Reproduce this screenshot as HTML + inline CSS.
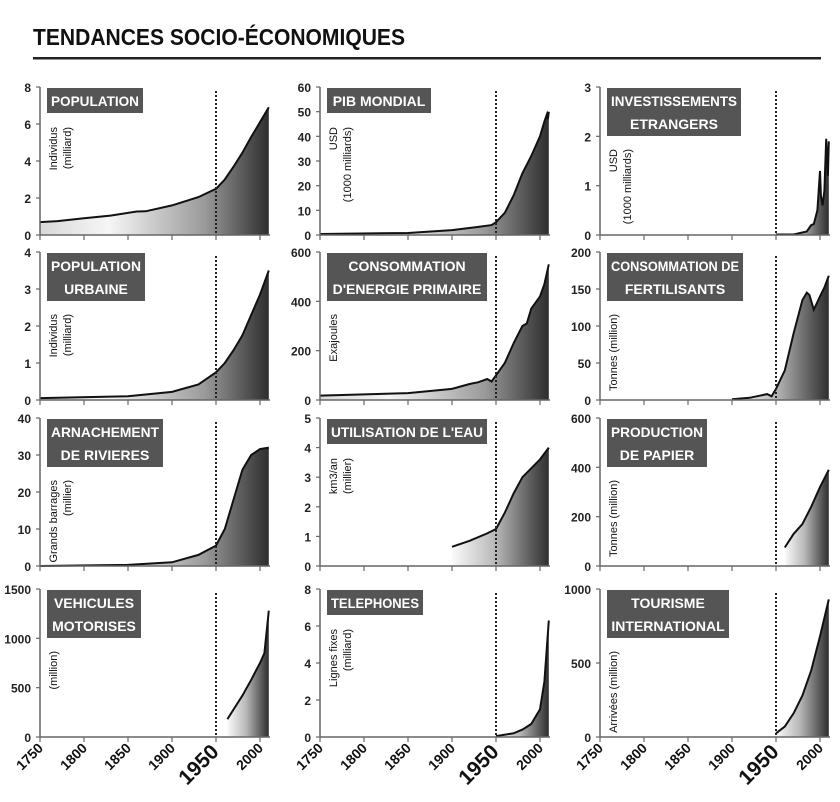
<!DOCTYPE html>
<html><head><meta charset="utf-8"><style>
html,body{margin:0;padding:0;background:#fff;}
svg{display:block;font-family:"Liberation Sans",sans-serif;}
</style></head><body>
<svg id="s" width="840" height="802" viewBox="0 0 840 802" xmlns="http://www.w3.org/2000/svg">
<defs>
<linearGradient id="gA" x1="0" x2="1" y1="0" y2="0">
<stop offset="0" stop-color="#d8d8d8"/><stop offset="0.3" stop-color="#f6f6f6"/><stop offset="0.72" stop-color="#9a9a9a"/><stop offset="1" stop-color="#2e2e2e"/>
</linearGradient>
<linearGradient id="gB" x1="0" x2="1" y1="0" y2="0">
<stop offset="0" stop-color="#fafafa"/><stop offset="0.45" stop-color="#b8b8b8"/><stop offset="1" stop-color="#2e2e2e"/>
</linearGradient>
</defs>
<text x="33" y="45" font-size="23" font-weight="bold" fill="#111" textLength="372" lengthAdjust="spacingAndGlyphs">TENDANCES SOCIO-ÉCONOMIQUES</text>
<rect x="33" y="57" width="788" height="2.5" fill="#222"/>
</svg>
<script>
const s=document.getElementById('s');const NS='http://www.w3.org/2000/svg';
function el(t,a,txt){const e=document.createElementNS(NS,t);for(const k in a)e.setAttribute(k,a[k]);if(txt!==undefined)e.textContent=txt;s.appendChild(e);return e;}
const cols=[40,320,600], rows=[235,400,566,737], H=148, K=0.88;
const P=[
{c:0,r:0,max:8,ticks:[0,2,4,6,8],t:["POPULATION"],bw:96,y:["Individus","(milliard)"],g:"gA",d:[[1750,.7],[1770,.75],[1800,.9],[1830,1.05],[1860,1.27],[1870,1.28],[1900,1.6],[1930,2.05],[1950,2.5],[1960,3.0],[1970,3.7],[1980,4.45],[1990,5.3],[2000,6.1],[2010,6.9]]},
{c:1,r:0,max:60,ticks:[0,10,20,30,40,50,60],t:["PIB MONDIAL"],bw:104,y:["USD","(1000 milliards)"],g:"gA",d:[[1750,.4],[1850,.8],[1900,2],[1930,3.3],[1945,4],[1950,5.2],[1960,9],[1970,16],[1980,25],[1990,32],[2000,40],[2005,46],[2008,49],[2009,47],[2010,50]]},
{c:2,r:0,max:3,ticks:[0,1,2,3],t:["INVESTISSEMENTS","ETRANGERS"],bw:134,y:["USD","(1000 milliards)"],g:"gB",d:[[1950,.01],[1970,.01],[1980,.05],[1985,.07],[1990,.2],[1993,.22],[1997,.5],[2000,1.3],[2001,.8],[2003,.6],[2005,.9],[2007,1.95],[2009,1.2],[2010,1.9]]},
{c:0,r:1,max:4,ticks:[0,1,2,3,4],t:["POPULATION","URBAINE"],bw:98,y:["Individus","(milliard)"],g:"gA",d:[[1750,.05],[1850,.1],[1900,.22],[1930,.42],[1950,.75],[1960,1.0],[1970,1.35],[1980,1.75],[1990,2.3],[2000,2.85],[2010,3.5]]},
{c:1,r:1,max:600,ticks:[0,200,400,600],t:["CONSOMMATION","D'ENERGIE PRIMAIRE"],bw:160,y:["Exajoules"],g:"gA",d:[[1750,18],[1850,28],[1900,45],[1920,65],[1930,72],[1940,85],[1945,75],[1950,100],[1960,150],[1970,230],[1980,300],[1985,310],[1990,370],[2000,420],[2005,470],[2010,550]]},
{c:2,r:1,max:200,ticks:[0,50,100,150,200],t:["CONSOMMATION DE","FERTILISANTS"],bw:136,y:["Tonnes (million)"],g:"gB",d:[[1900,1],[1920,3],[1940,8],[1945,5],[1950,15],[1960,40],[1970,90],[1980,135],[1985,145],[1988,142],[1993,122],[2000,140],[2005,152],[2010,168]]},
{c:0,r:2,max:40,ticks:[0,10,20,30,40],t:["ARNACHEMENT","DE RIVIERES"],bw:116,y:["Grands barrages","(millier)"],g:"gA",d:[[1750,0],[1850,.3],[1900,1],[1930,3],[1950,5.5],[1960,10],[1970,18],[1980,26],[1990,30],[2000,31.6],[2010,32]]},
{c:1,r:2,max:5,ticks:[0,1,2,3,4,5],t:["UTILISATION DE L'EAU"],bw:160,y:["km3/an","(millier)"],g:"gB",d:[[1900,.65],[1920,.85],[1940,1.1],[1950,1.25],[1960,1.8],[1970,2.45],[1980,3.0],[1990,3.3],[2000,3.6],[2010,4.0]]},
{c:2,r:2,max:600,ticks:[0,200,400,600],t:["PRODUCTION","DE PAPIER"],bw:100,y:["Tonnes (million)"],g:"gB",d:[[1960,75],[1970,130],[1980,170],[1990,240],[2000,320],[2010,390]]},
{c:0,r:3,max:1500,ticks:[0,500,1000,1500],t:["VEHICULES","MOTORISES"],bw:94,y:["(million)"],g:"gB",d:[[1963,180],[1970,280],[1980,420],[1990,580],[2000,750],[2005,850],[2010,1280]]},
{c:1,r:3,max:8,ticks:[0,2,4,6,8],t:["TELEPHONES"],bw:96,y:["Lignes  fixes","(milliard)"],g:"gB",d:[[1950,.05],[1970,.2],[1980,.4],[1990,.7],[2000,1.5],[2005,3],[2010,6.3]]},
{c:2,r:3,max:1000,ticks:[0,500,1000],t:["TOURISME","INTERNATIONAL"],bw:122,y:["Arrivées (million)"],g:"gB",d:[[1950,25],[1960,70],[1970,160],[1980,280],[1990,450],[2000,680],[2010,930]]}
];
P.forEach(p=>{
 const x0=cols[p.c], y0=rows[p.r];
 const X=yr=>x0+(yr-1750)*K, Y=v=>y0-v/p.max*H;
 let pts=p.d.map(q=>X(q[0]).toFixed(1)+','+Y(q[1]).toFixed(1));
 const xs=X(p.d[0][0]), xe=X(p.d[p.d.length-1][0]);
 el('polygon',{points:xs+','+y0+' '+pts.join(' ')+' '+xe+','+y0,fill:'url(#'+p.g+')'});
 el('polyline',{points:pts.join(' '),fill:'none',stroke:'#111','stroke-width':2});
 el('line',{x1:x0,y1:y0-H,x2:x0,y2:y0,stroke:'#666','stroke-width':1.5});
 el('line',{x1:x0,y1:y0,x2:x0+230,y2:y0,stroke:'#666','stroke-width':1.5});
 p.ticks.forEach(v=>{const y=Y(v);el('line',{x1:x0-4,y1:y,x2:x0,y2:y,stroke:'#666','stroke-width':1.2});
  el('text',{x:x0-9,y:y+5,'text-anchor':'end','font-size':12,'font-weight':'bold',fill:'#222'},String(v));});
 for(let yr=1750;yr<=2000;yr+=50){const x=X(yr);el('line',{x1:x,y1:y0,x2:x,y2:y0+5,stroke:'#666','stroke-width':1.2});}
 el('line',{x1:X(1950),y1:y0-H+4,x2:X(1950),y2:y0,stroke:'#222','stroke-width':2,'stroke-dasharray':'2,2'});
 const bh=p.t.length==1?25:48, bx=x0+7, by=y0-H+1;
 el('rect',{x:bx,y:by,width:p.bw,height:bh,fill:'#555'});
 p.t.forEach((t,i)=>{const e=el('text',{x:bx+p.bw/2,y:by+18+i*23,'text-anchor':'middle','font-size':14,'font-weight':'bold',fill:'#fff'},t);
   const w=e.getComputedTextLength();const mx=p.bw-8;if(w>mx){e.setAttribute('textLength',mx);e.setAttribute('lengthAdjust','spacingAndGlyphs');}});
 const ly=y0-H+ (p.t.length==1?40:62);
 p.y.forEach((t,i)=>{const lx=x0+17+i*14;el('text',{x:lx,y:ly,transform:'rotate(-90 '+lx+' '+ly+')','text-anchor':'end','font-size':11,fill:'#111'},t);});
 if(p.r==3){for(let yr=1750;yr<=2000;yr+=50){const x=X(yr)+4,y=y0+12;const big=yr==1950;
  el('text',{x:x,y:y+(big?4:0),transform:'rotate(-45 '+x+' '+(y+(big?4:0))+')','text-anchor':'end','font-size':big?21:14,'font-weight':'bold',fill:'#111'},String(yr));}}
});
</script>
</body></html>
